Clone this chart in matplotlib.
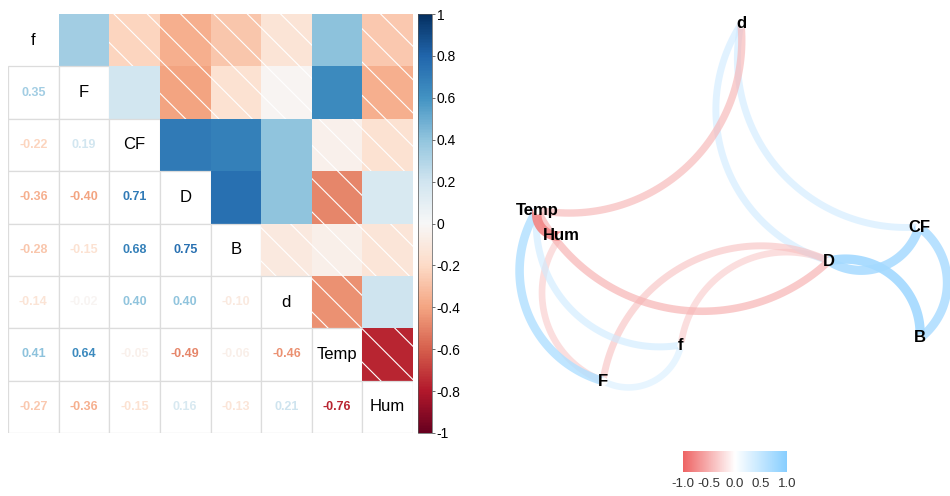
import numpy as np
import matplotlib.pyplot as plt
import matplotlib as mpl
from matplotlib.patches import Rectangle
from matplotlib.colors import LinearSegmentedColormap, Normalize

plt.rcParams['font.family'] = ['Liberation Sans', 'DejaVu Sans']
plt.rcParams['hatch.linewidth'] = 0.8

# variables and lower triangle of the correlation matrix (row by row)
names = ['f', 'F', 'CF', 'D', 'B', 'd', 'Temp', 'Hum']
lower = [
    [0.35],
    [-0.22, 0.19],
    [-0.36, -0.40, 0.71],
    [-0.28, -0.15, 0.68, 0.75],
    [-0.14, -0.02, 0.40, 0.40, -0.10],
    [0.41, 0.64, -0.05, -0.49, -0.06, -0.46],
    [-0.27, -0.36, -0.15, 0.16, -0.13, 0.21, -0.76],
]
cbar_ticks = [-1, -0.8, -0.6, -0.4, -0.2, 0, 0.2, 0.4, 0.6, 0.8, 1]
cbar_labels = ['-1', '-0.8', '-0.6', '-0.4', '-0.2', '0', '0.2', '0.4', '0.6', '0.8', '1']

# network layout (node positions) and edges with |r| >= 0.3
node_x = {'d': 741, 'Temp': 537, 'Hum': 561, 'CF': 919, 'D': 829, 'B': 920, 'f': 681, 'F': 603}
node_y = {'d': 472, 'Temp': 286, 'Hum': 260, 'CF': 269, 'D': 235, 'B': 158, 'f': 151, 'F': 115}
edges = [('Temp', 'd'), ('d', 'CF'), ('d', 'D'), ('Temp', 'F'), ('Temp', 'f'),
         ('Temp', 'Hum'), ('Hum', 'F'), ('Temp', 'D'), ('D', 'F'), ('D', 'f'),
         ('F', 'f'), ('D', 'CF'), ('B', 'D'), ('B', 'CF')]
legend_ticks = [-1.0, -0.5, 0.0, 0.5, 1.0]

n = len(names)
R = np.eye(n)
for i, row in enumerate(lower, start=1):
    for j, v in enumerate(row):
        R[i, j] = v
        R[j, i] = v

fig = plt.figure(figsize=(9.5, 4.96), dpi=100)
cmap = plt.get_cmap('RdBu')
norm = Normalize(-1, 1)

# ---- correlation matrix ----
ax = fig.add_axes([8 / 950, 63 / 496, 405 / 950, 419 / 496])
for i in range(n):
    for j in range(n):
        if j > i:
            r = R[i, j]
            ax.add_patch(Rectangle((j, i), 1, 1, facecolor=cmap(norm(r)),
                                   edgecolor='white' if r < 0 else 'none',
                                   hatch='\\' if r < 0 else None, lw=0))
        else:
            ax.add_patch(Rectangle((j, i), 1, 1, facecolor='white',
                                   edgecolor='none' if i == j == 0 else '#dcdcdc',
                                   lw=0.9))
            if i == j:
                ax.text(j + 0.5, i + 0.5, names[i], ha='center', va='center',
                        fontsize=12, color='black')
            else:
                r = R[i, j]
                ax.text(j + 0.5, i + 0.5, f'{r:.2f}', ha='center', va='center',
                        fontsize=9, fontweight='bold', color=cmap(norm(r)))
ax.set_xlim(0, n)
ax.set_ylim(n, 0)
ax.axis('off')

cax = fig.add_axes([418 / 950, 63 / 496, 14 / 950, 419 / 496])
cb = mpl.colorbar.ColorbarBase(cax, cmap=cmap, norm=norm, orientation='vertical')
cb.set_ticks(cbar_ticks)
cb.set_ticklabels(cbar_labels)
cb.outline.set_linewidth(0.5)
cb.outline.set_edgecolor('#555555')
cax.tick_params(labelsize=10, length=2.5, width=0.6, color='#555555', pad=1)

# ---- network plot ----
net_cmap = LinearSegmentedColormap.from_list('net', ['#EE6363', 'white', '#87CEFF'])
nax = fig.add_axes([480 / 950, 0, 470 / 950, 1])


def curve(p0, p1, curvature=0.5, num=80):
    # circular arc bending to the right of p0 -> p1, sagitta = curvature/2 * chord
    p0 = np.asarray(p0, float)
    p1 = np.asarray(p1, float)
    d = p1 - p0
    L = np.hypot(*d)
    s = curvature / 2 * L
    rho = (s ** 2 + (L / 2) ** 2) / (2 * s)
    right = np.array([d[1], -d[0]]) / L
    centre = (p0 + p1) / 2 - right * (rho - s)
    a0 = np.arctan2(*(p0 - centre)[::-1])
    a1 = np.arctan2(*(p1 - centre)[::-1])
    # go the short way round through the bulge side
    da = (a1 - a0 + np.pi) % (2 * np.pi) - np.pi
    ang = a0 + np.linspace(0, 1, num) * da
    return np.column_stack([centre[0] + rho * np.cos(ang), centre[1] + rho * np.sin(ang)])


idx = {nm: k for k, nm in enumerate(names)}
for a, b in sorted(edges, key=lambda e: abs(R[idx[e[0]], idx[e[1]]])):
    r = R[idx[a], idx[b]]
    pts = curve((node_x[a], node_y[a]), (node_x[b], node_y[b]))
    nax.plot(pts[:, 0], pts[:, 1], color=net_cmap(norm(r)),
             alpha=min(1, 0.25 + 0.9 * abs(r)), lw=3 + 5 * abs(r),
             solid_capstyle='butt')

for nm in names:
    nax.scatter(node_x[nm], node_y[nm], s=25, color='white', zorder=3)
    nax.text(node_x[nm], node_y[nm], nm, ha='center', va='center',
             fontsize=12, fontweight='bold', color='black', zorder=4)
nax.set_xlim(480, 950)
nax.set_ylim(0, 496)
nax.axis('off')

lax = fig.add_axes([683 / 950, 24 / 496, 104 / 950, 21 / 496])
lcb = mpl.colorbar.ColorbarBase(lax, cmap=net_cmap, norm=norm, orientation='horizontal')
lcb.set_ticks(legend_ticks)
lcb.set_ticklabels([f'{v:.1f}' for v in legend_ticks])
lcb.outline.set_visible(False)
lax.tick_params(labelsize=9.5, length=0, pad=4, labelcolor='#333333')

fig.savefig('out.png', dpi=100)
